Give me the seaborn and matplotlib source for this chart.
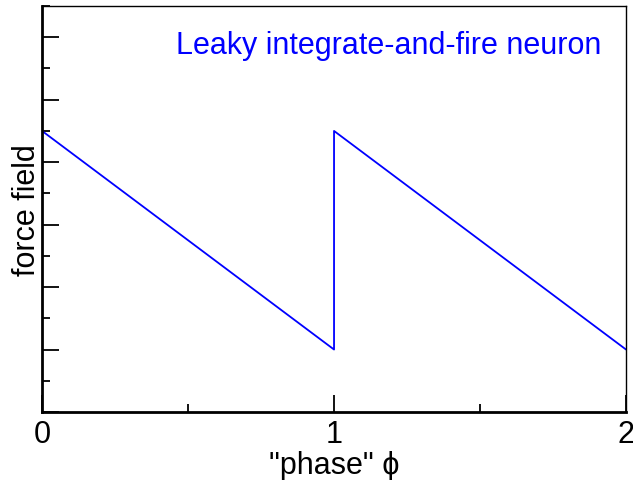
import matplotlib
matplotlib.use("Agg")
import matplotlib.pyplot as plt
import seaborn as sns
import pandas as pd
from matplotlib.ticker import MultipleLocator, NullFormatter

sns.set_style("white")
plt.rcParams["font.family"] = ["Liberation Sans", "DejaVu Sans"]
plt.rcParams["text.color"] = "black"
plt.rcParams["axes.labelcolor"] = "black"
plt.rcParams["xtick.color"] = "black"
plt.rcParams["ytick.color"] = "black"

# sawtooth of the force field over two phase periods
phase = [0.0, 1.0, 1.0, 2.0]
force = [9.0, 2.0, 9.0, 2.0]
title_text = "Leaky integrate-and-fire neuron"
x_ticklabels = ["0", "1", "2"]

df = pd.DataFrame({"phase": phase, "force": force})

fig = plt.figure(figsize=(6.33, 4.81), dpi=100)
ax = fig.add_axes([0.0664, 0.1414, 0.9226, 0.844])

sns.lineplot(data=df, x="phase", y="force", sort=False, estimator=None,
             color="#0000ff", linewidth=1.3, ax=ax)

ax.set_xlim(0, 2)
ax.set_ylim(0, 13)

ax.xaxis.set_minor_locator(MultipleLocator(0.5))
ax.set_xticks([0, 1, 2])
ax.set_xticklabels(x_ticklabels)
ax.yaxis.set_major_locator(MultipleLocator(2))
ax.yaxis.set_minor_locator(MultipleLocator(1))
ax.yaxis.set_major_formatter(NullFormatter())

ax.tick_params(axis="both", which="major", direction="in", length=12, width=1.3,
               labelsize=22, pad=5)
ax.tick_params(axis="both", which="minor", direction="in", length=6, width=1.3)
ax.tick_params(axis="y", which="both", left=True, right=False)
ax.tick_params(axis="x", which="both", bottom=True, top=False)

for side in ["left", "bottom"]:
    ax.spines[side].set_linewidth(2.0)
    ax.spines[side].set_color("black")
for side in ["top", "right"]:
    ax.spines[side].set_linewidth(1.0)
    ax.spines[side].set_color("black")

ax.set_xlabel("\"phase\" \u03d5", fontsize=22, labelpad=1)
ax.set_ylabel("force field", fontsize=22, labelpad=-5)

ax.text(0.958, 0.904, title_text, transform=ax.transAxes, ha="right", va="center",
        color="#0000ff", fontsize=22)

fig.savefig("out.png", dpi=100)
